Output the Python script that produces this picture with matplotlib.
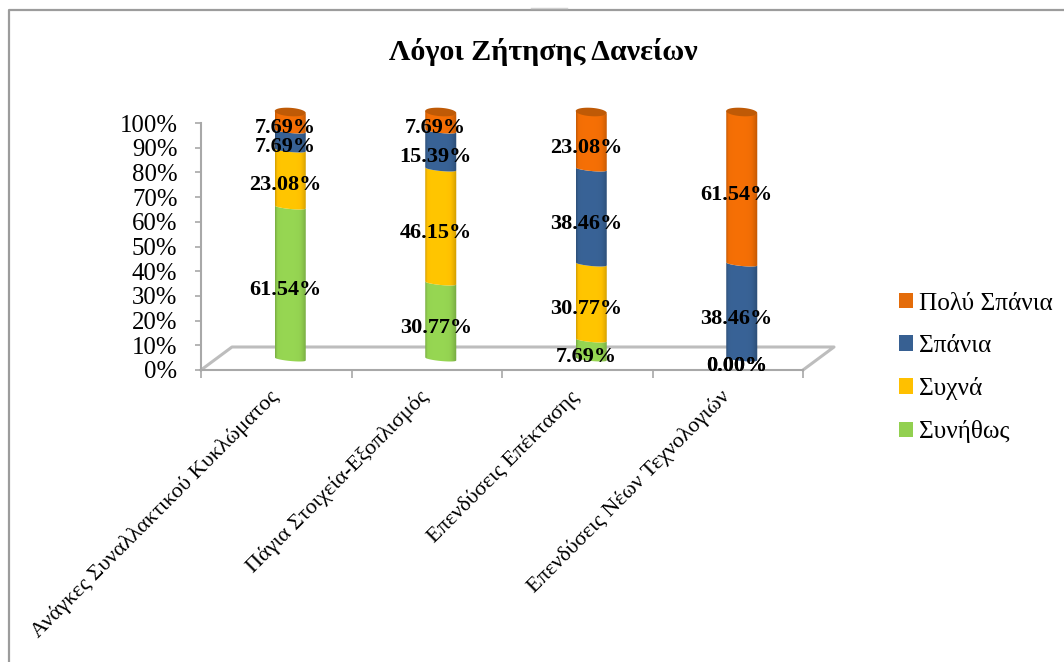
import numpy as np
import matplotlib
matplotlib.use('Agg')
import matplotlib.pyplot as plt
from matplotlib.lines import Line2D
from matplotlib.patches import Patch, PathPatch, Polygon
from matplotlib.path import Path
from matplotlib.transforms import ScaledTranslation

plt.rcParams['font.family'] = ['Liberation Serif', 'DejaVu Serif']

W, H = 1064, 662
DPI = 100

title = 'Λόγοι Ζήτησης Δανείων'
categories = ['Ανάγκες Συναλλακτικού Κυκλώματος', 'Πάγια Στοιχεία-Εξοπλισμός',
              'Επενδύσεις Επέκτασης', 'Επενδύσεις Νέων Τεχνολογιών']
y_ticks = [0, 10, 20, 30, 40, 50, 60, 70, 80, 90, 100]

# stacked from the bottom up
synithos = [61.54, 30.77, 7.69, 0.00]
sychna = [23.08, 46.15, 30.77, 0.00]
spania = [7.69, 15.39, 38.46, 38.46]
poly_spania = [7.69, 7.69, 23.08, 61.54]

series_names = ['Συνήθως', 'Συχνά', 'Σπάνια', 'Πολύ Σπάνια']
series_values = [synithos, sychna, spania, poly_spania]
series_colors = ['#92D050', '#FFC000', '#376092', '#EE6C05']
legend_colors = ['#92D050', '#FFC000', '#376092', '#E46C0A']
cap_color = '#BF5A06'

GREY = '#A8A8A8'
BAR_W = 0.206      # width of a column in category units
PX = 100 / 247     # one pixel in axis units


def px_axes(fig, left, top, right, bottom):
    '''axes placed from pixel edges, counted from the top left'''
    return fig.add_axes([left / W, 1 - bottom / H, (right - left) / W, (bottom - top) / H])


def edge(u, y, sag=2.0, tilt=1.5):
    '''front edge of a column slice: bulges down, rises to the right'''
    return y - (sag * np.sqrt(1 - u ** 2) + tilt * u) * PX


def shaded(color):
    '''horizontal shading that gives the column its round look'''
    rgb = np.array(matplotlib.colors.to_rgb(color))
    u = np.linspace(0, 1, 64)
    light = 1.03 - 0.16 * np.abs(u - 0.42) ** 4 / 0.58 ** 4 - 0.08 * (u > 0.8) * (u - 0.8) / 0.2
    light = light - 0.16 * np.clip(1 - u / 0.07, 0, 1)
    return np.clip(rgb[None, :] * light[:, None], 0, 1)[None, :, :]


def draw_slice(ax, x, y0, y1, color):
    u = np.linspace(-1, 1, 41)
    xs = x + u * BAR_W / 2
    pts = np.concatenate([np.column_stack([xs, edge(u, y0)]),
                          np.column_stack([xs[::-1], edge(u[::-1], y1)])])
    patch = PathPatch(Path(np.vstack([pts, pts[0]])), fc='none', ec='none')
    ax.add_patch(patch)
    img = ax.imshow(shaded(color), extent=[x - BAR_W / 2, x + BAR_W / 2, y0 - 5, y1 + 5],
                    aspect='auto', interpolation='bilinear', zorder=2)
    img.set_clip_path(patch)


def draw_cap(ax, x, y):
    t = np.linspace(0, 2 * np.pi, 60)
    u = np.cos(t)
    ys = y + (4.2 * np.sin(t) - 1.0 * u) * PX
    ax.add_patch(Polygon(np.column_stack([x + u * BAR_W / 2, ys]), fc=cap_color, ec='none', zorder=3))


fig = plt.figure(figsize=(W / DPI, H / DPI), dpi=DPI)

# outer chart border, open on the right and at the bottom
fig.add_artist(Line2D([9 / W, 9 / W, 1], [0, 1 - 10 / H, 1 - 10 / H], color='#9C9C9C', lw=1.6))
fig.add_artist(Line2D([531 / W, 567 / W], [1 - 8 / H, 1 - 8 / H], color='#CFCFCF', lw=1))

fig.text(543 / W, 1 - 52 / H, title, ha='center', va='center', fontsize=21.6, fontweight='bold')

# front plane: axis, ticks and floor
ax = px_axes(fig, 201, 123, 803, 370)
ax.set_xlim(0, 4)
ax.set_ylim(0, 100)
ax.set_facecolor('none')
for side in ['top', 'right']:
    ax.spines[side].set_visible(False)
for side in ['left', 'bottom']:
    ax.spines[side].set_color(GREY)
    ax.spines[side].set_linewidth(1.5)
ax.set_yticks(y_ticks)
ax.set_yticklabels([f'{v}%' for v in y_ticks], fontsize=17.8)
ax.tick_params(axis='y', length=4.5, width=1.2, color=GREY, pad=12.5)
ax.set_xticks(range(5))
ax.set_xticklabels([])
ax.tick_params(axis='x', which='major', length=6, width=1.2, color=GREY)
ax.set_xticks(np.arange(4) + 0.5, minor=True)
ax.set_xticklabels(categories, minor=True, rotation=45, ha='right', va='top',
                   rotation_mode='anchor', fontsize=16)
ax.tick_params(axis='x', which='minor', length=0, pad=10)
# nudge the slanted labels so their ends sit under the columns
nudge = ScaledTranslation(-8 / DPI, -3 / DPI, fig.dpi_scale_trans)
for label in ax.get_xticklabels(minor=True):
    label.set_transform(label.get_transform() + nudge)

# floor outline going back from the axis corners
dx, dy = 31 / 150.5, 23 * PX
ax.plot([0, dx, 4 + dx, 4], [0, dy, dy, 0], color='#BDBDBD', lw=2.2, clip_on=False, zorder=1)

# columns sit a little behind the front plane, with room for caps and round bottoms
bars = px_axes(fig, 215, 112 - 5 / PX, 817, 359 + 5 / PX)

for i in range(len(categories)):
    x = i + 0.5
    bottom = 0
    for values, color in zip(series_values, series_colors):
        v = values[i]
        if v > 0:
            draw_slice(bars, x, bottom, bottom + v, color)
        bottom += v
    draw_cap(bars, x, bottom)
    bottom = 0
    for values in series_values:
        v = values[i]
        bars.annotate(f'{v:.2f}%', (x, bottom + v / 2), xytext=(-5, -7), textcoords='offset pixels',
                      ha='center', va='center', fontsize=16, fontweight='bold', zorder=5,
                      annotation_clip=False)
        bottom += v
bars.set_xlim(0, 4)
bars.set_ylim(-5, 105)
bars.axis('off')

handles = [Patch(fc=c, ec='none', label=n) for n, c in zip(series_names, legend_colors)]
fig.legend(handles=handles[::-1], loc='center left', bbox_to_anchor=(876 / W, 1 - 368 / H),
           frameon=False, fontsize=18.2, handlelength=0.56, handleheight=0.56,
           handletextpad=0.26, labelspacing=0.8)

plt.savefig('out.png', dpi=DPI)
